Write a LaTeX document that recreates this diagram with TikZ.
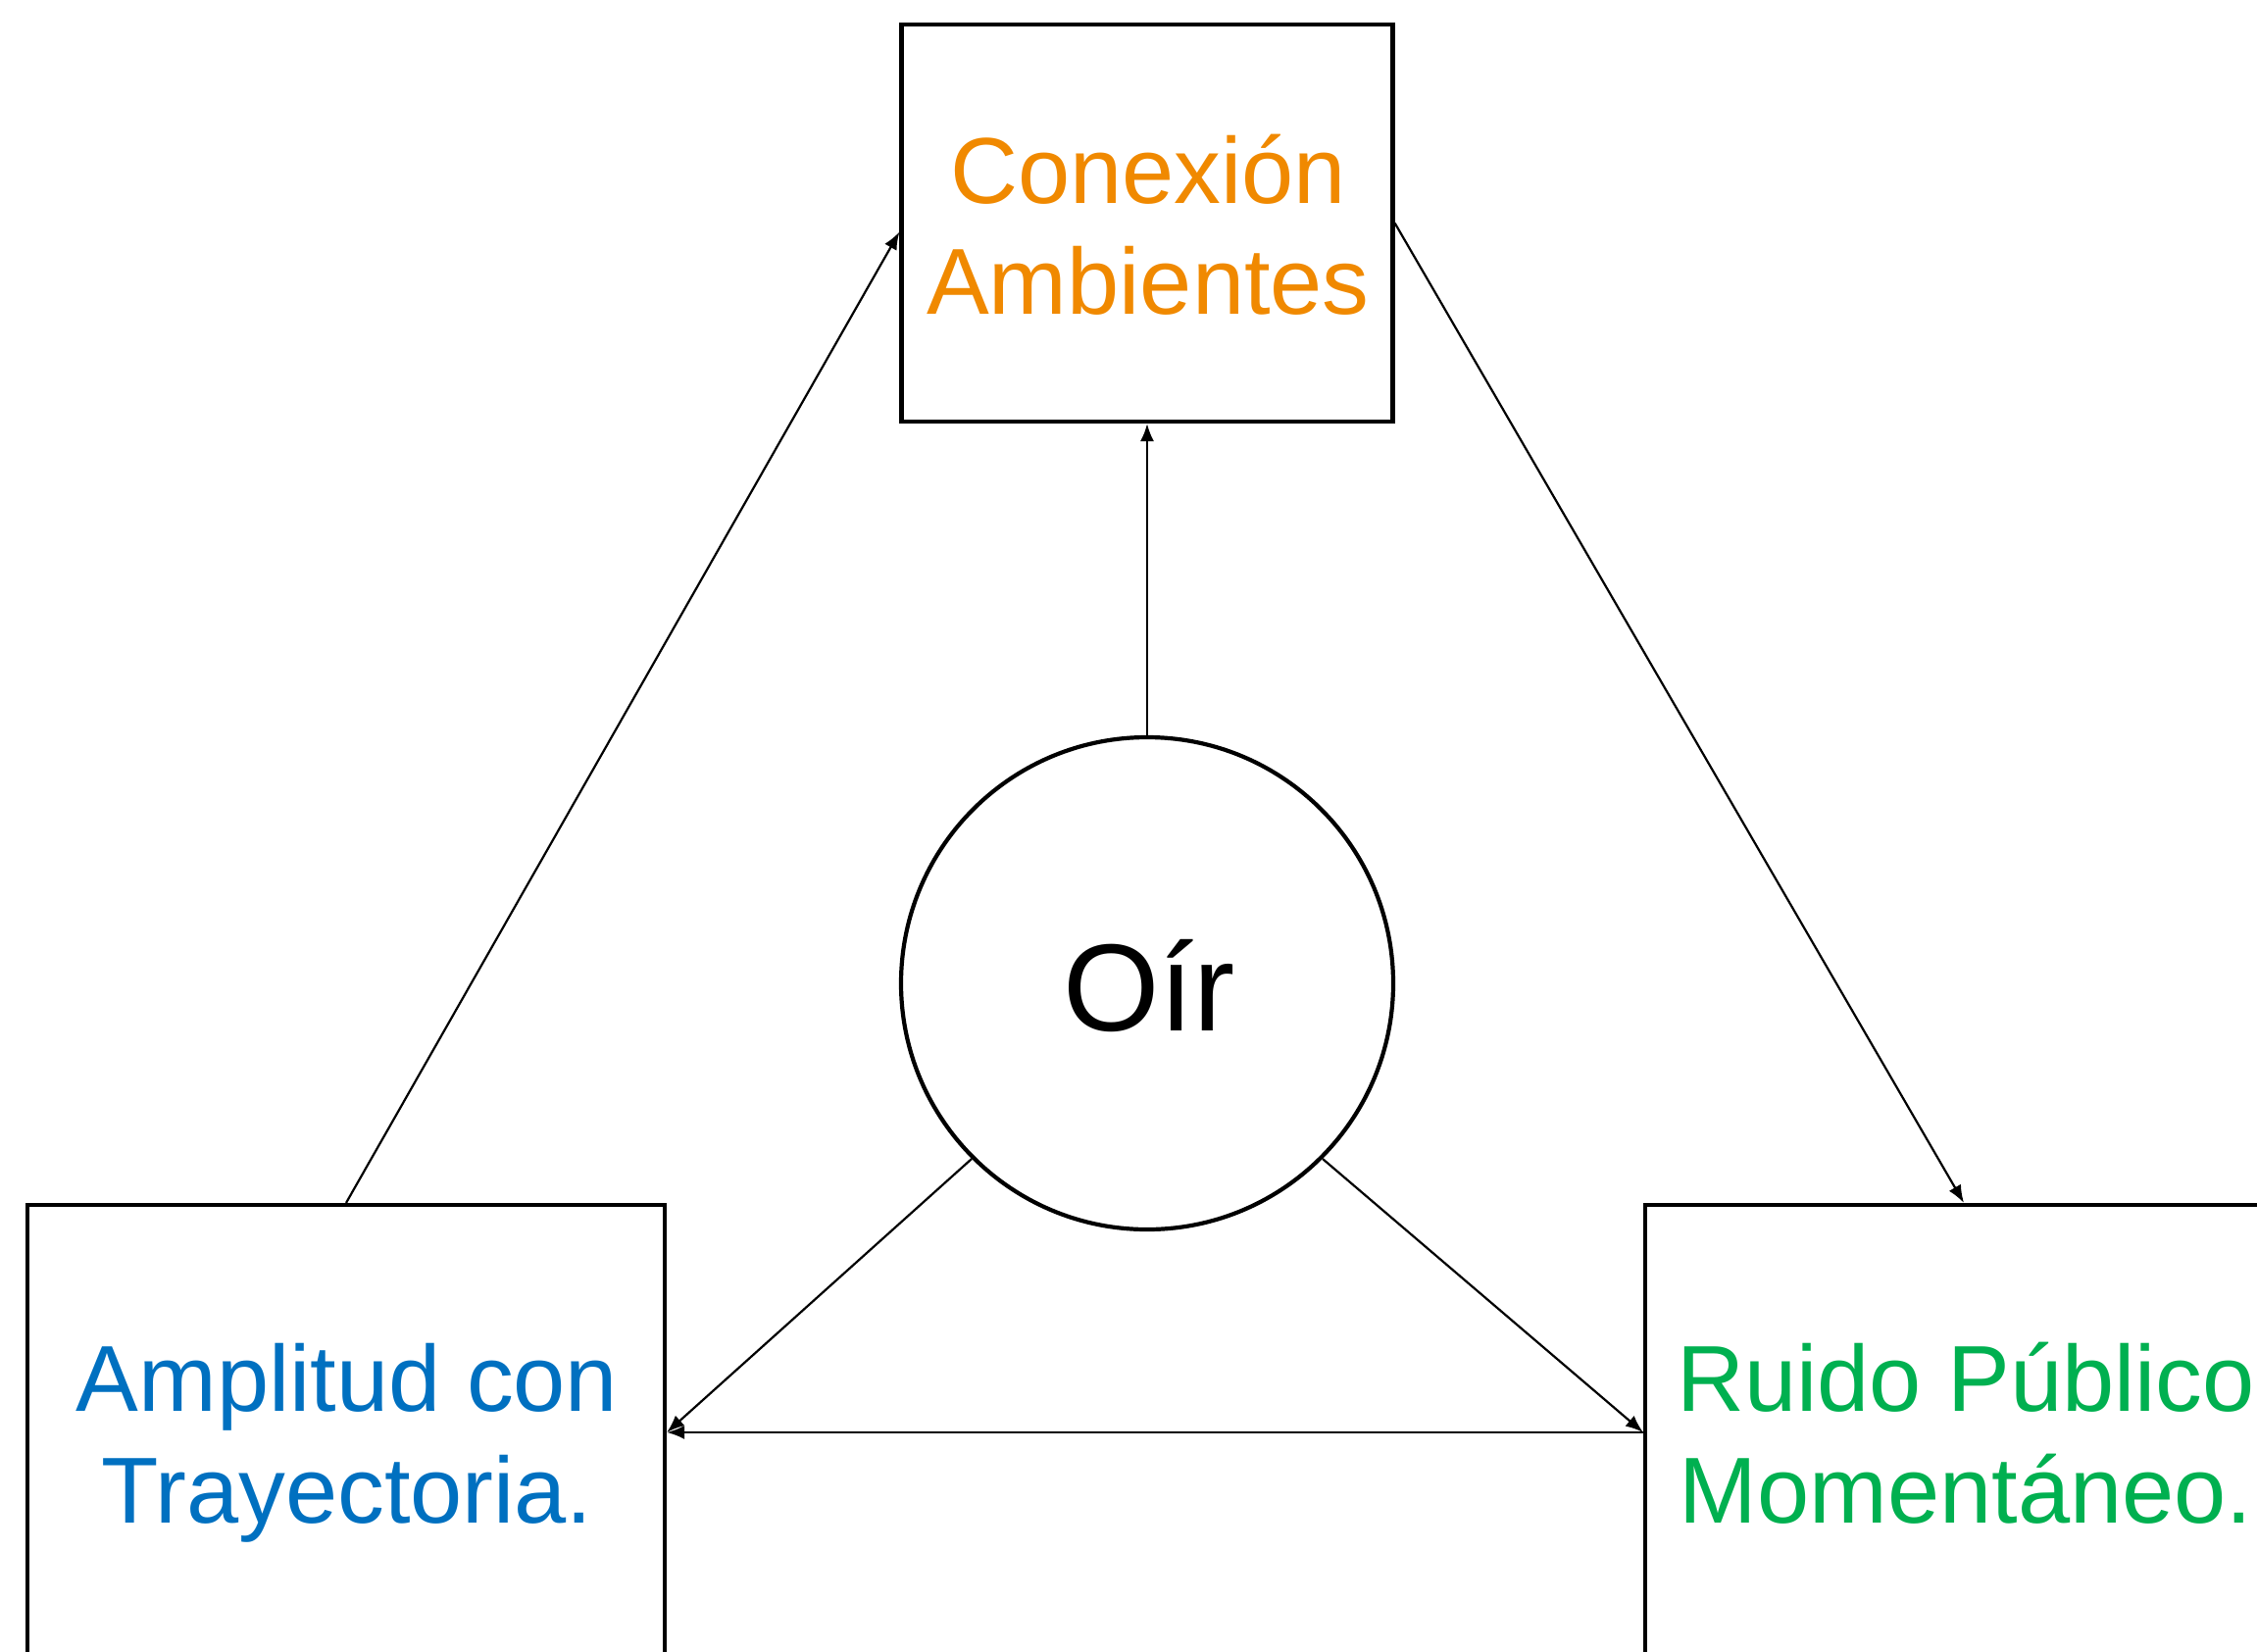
\documentclass[tikz,border=0pt]{standalone}
\usepackage{fontspec}
\setmainfont{Liberation Sans}
\usetikzlibrary{arrows.meta}
\definecolor{corange}{RGB}{240,137,0}
\definecolor{cblue}{RGB}{0,112,192}
\definecolor{cgreen}{RGB}{0,176,80}
\begin{document}
\begin{tikzpicture}[x=0.1mm,y=-0.1mm,
  box/.style={draw, line width=0.42mm, rectangle, inner sep=0pt},
  conn/.style={line width=0.22mm, -{Latex[length=1.8mm,width=1.4mm]}},
  txt/.style={anchor=base, inner sep=0pt, font=\fontsize{27.2}{32}\selectfont},
  bigtxt/.style={anchor=base, inner sep=0pt, font=\fontsize{36}{42}\selectfont},
 ]
\clip (0,0) rectangle (2302,1684);
\node[box, minimum width=50.1mm, minimum height=40.5mm] (top) at (1170,227.5) {};
\node[box, circle, minimum size=50.2mm] (oir) at (1170,1003) {};
\node[box, minimum width=65mm, minimum height=46.4mm] (left) at (353,1461) {};
\node[box, minimum width=65mm, minimum height=46.4mm] (right) at (2003,1461) {};

\node[txt, text=corange] (t1) at (1171,207) {Conexión};
\node[txt, text=corange] (t2) at (1171,320) {Ambientes};
\node[txt, text=cblue] (l1) at (354,1439) {Amplitud con};
\node[txt, text=cblue] (l2) at (354,1553) {Trayectoria.};
\node[txt, text=cgreen] (r1) at (2005,1439) {Ruido Público};
\node[txt, text=cgreen] (r2) at (2005,1553) {Momentáneo.};
\node[bigtxt] (o1) at (1172,1051) {Oír};

\draw[conn] (oir.north) -- (top.south);
\draw[conn] (left.north) -- ([yshift=-0.9mm]top.west);
\draw[conn] (top.east) -- (right.north);
\draw[conn] (oir.225) -- (left.east);
\draw[conn] (oir.-45) -- (right.west);
\draw[conn] (right.west) -- (left.east);
\end{tikzpicture}
\end{document}
